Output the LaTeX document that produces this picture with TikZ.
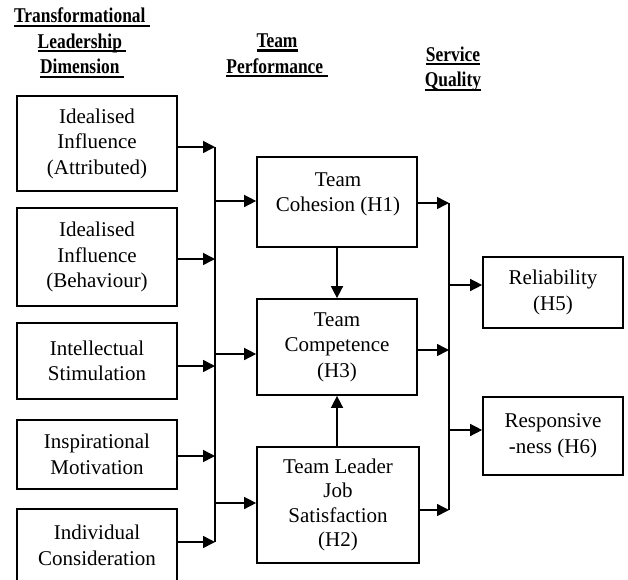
\documentclass[tikz,border=0pt]{standalone}
\usepackage{fontspec}
\setmainfont{Liberation Serif}
\newfontfamily\headfont[FakeStretch=0.83]{Liberation Serif}
\usetikzlibrary{arrows.meta}
% heading underline: a thick rule just below the baseline, clear of descenders
\newcommand{\undl}[1]{\setbox0=\hbox{#1}\rlap{\rule[-4pt]{\wd0}{2.2pt}}\box0}
\begin{document}
\begin{tikzpicture}[x=1pt,y=-1pt,
  box/.style={draw, line width=1.7pt, inner sep=0pt, align=center,
              font=\fontsize{21}{25.5}\selectfont},
  txt/.style={inner sep=0pt, align=center, font=\fontsize{21}{25.5}\selectfont},
  head/.style={inner sep=0pt, align=center,
               font=\headfont\bfseries\fontsize{21}{25.5}\selectfont},
  link/.style={line width=1.5pt},
  arr/.style={line width=1.5pt, -{Triangle[length=12pt,width=12pt]}}]
\useasboundingbox (0,0) rectangle (628,579);

% column headings
\node[head] (hdl) at (82,43) {\undl{Transformational\ }\\\undl{Leadership\ }\\\undl{Dimension\ }};
\node[head] (hdt) at (277,55.5) {\undl{Team}\\\undl{Performance\ }};
\node[head] (hds) at (453,69) {\undl{Service}\\\undl{Quality}};

% leadership dimensions
\node[box, minimum width=160, minimum height=95] (ia) at (97,143.5) {Idealised\\Influence\\(Attributed)};
\node[box, minimum width=160, minimum height=98] (ib) at (97,257) {Idealised\\Influence\\(Behaviour)};
\node[box, minimum width=160, minimum height=76] (is) at (97,361) {Intellectual\\Stimulation};
\node[box, minimum width=160, minimum height=69] (im) at (97,454.5) {Inspirational\\Motivation};
\node[box, minimum width=160, minimum height=73] (ic) at (97,545.5) {Individual\\Consideration};

% team performance
\node[box, minimum width=160, minimum height=90] (h1) at (337,202) {};
\node[txt] (h1t) at (338,194.5) {Team\\Cohesion (H1)};
\node[box, minimum width=160, minimum height=96] (h3) at (337,347) {Team\\Competence\\(H3)};
\node[box, minimum width=162, minimum height=116, font=\fontsize{21}{24.5}\selectfont] (h2) at (338,505) {Team Leader\\Job\\Satisfaction\\(H2)};

% service quality
\node[box, minimum width=140, minimum height=71] (rel) at (553,292.5) {Reliability\\(H5)};
\node[box, minimum width=140, minimum height=78] (rsp) at (553,436) {Responsive\\-ness (H6)};

% left bus
\coordinate (b1) at (215,147);
\coordinate (b2) at (215,259);
\coordinate (b3) at (215,366);
\coordinate (b4) at (215,456);
\coordinate (b5) at (215,542);
\coordinate (m1) at (215,201);
\coordinate (m2) at (215,354);
\coordinate (m3) at (215,503);
\draw[arr] (ia.east |- b1) -- (b1);
\draw[arr] (ib.east |- b2) -- (b2);
\draw[arr] (is.east |- b3) -- (b3);
\draw[arr] (im.east |- b4) -- (b4);
\draw[arr] (ic.east |- b5) -- (b5);
\draw[link] (b1) -- (b5);
\draw[arr] (m1) -- (h1.west |- m1);
\draw[arr] (m2) -- (h3.west |- m2);
\draw[arr] (m3) -- (h2.west |- m3);

% links between team performance boxes
\draw[arr] (h1.south) -- (h3.north);
\draw[arr] (h2.north -| h3.south) -- (h3.south);

% right bus
\coordinate (c1) at (449,203);
\coordinate (c2) at (449,350);
\coordinate (c3) at (449,510);
\coordinate (r1) at (449,285);
\coordinate (r2) at (449,430);
\draw[arr] (h1.east |- c1) -- (c1);
\draw[arr] (h3.east |- c2) -- (c2);
\draw[arr] (h2.east |- c3) -- (c3);
\draw[link] (c1) -- (c3);
\draw[arr] (r1) -- (rel.west |- r1);
\draw[arr] (r2) -- (rsp.west |- r2);
\end{tikzpicture}
\end{document}
